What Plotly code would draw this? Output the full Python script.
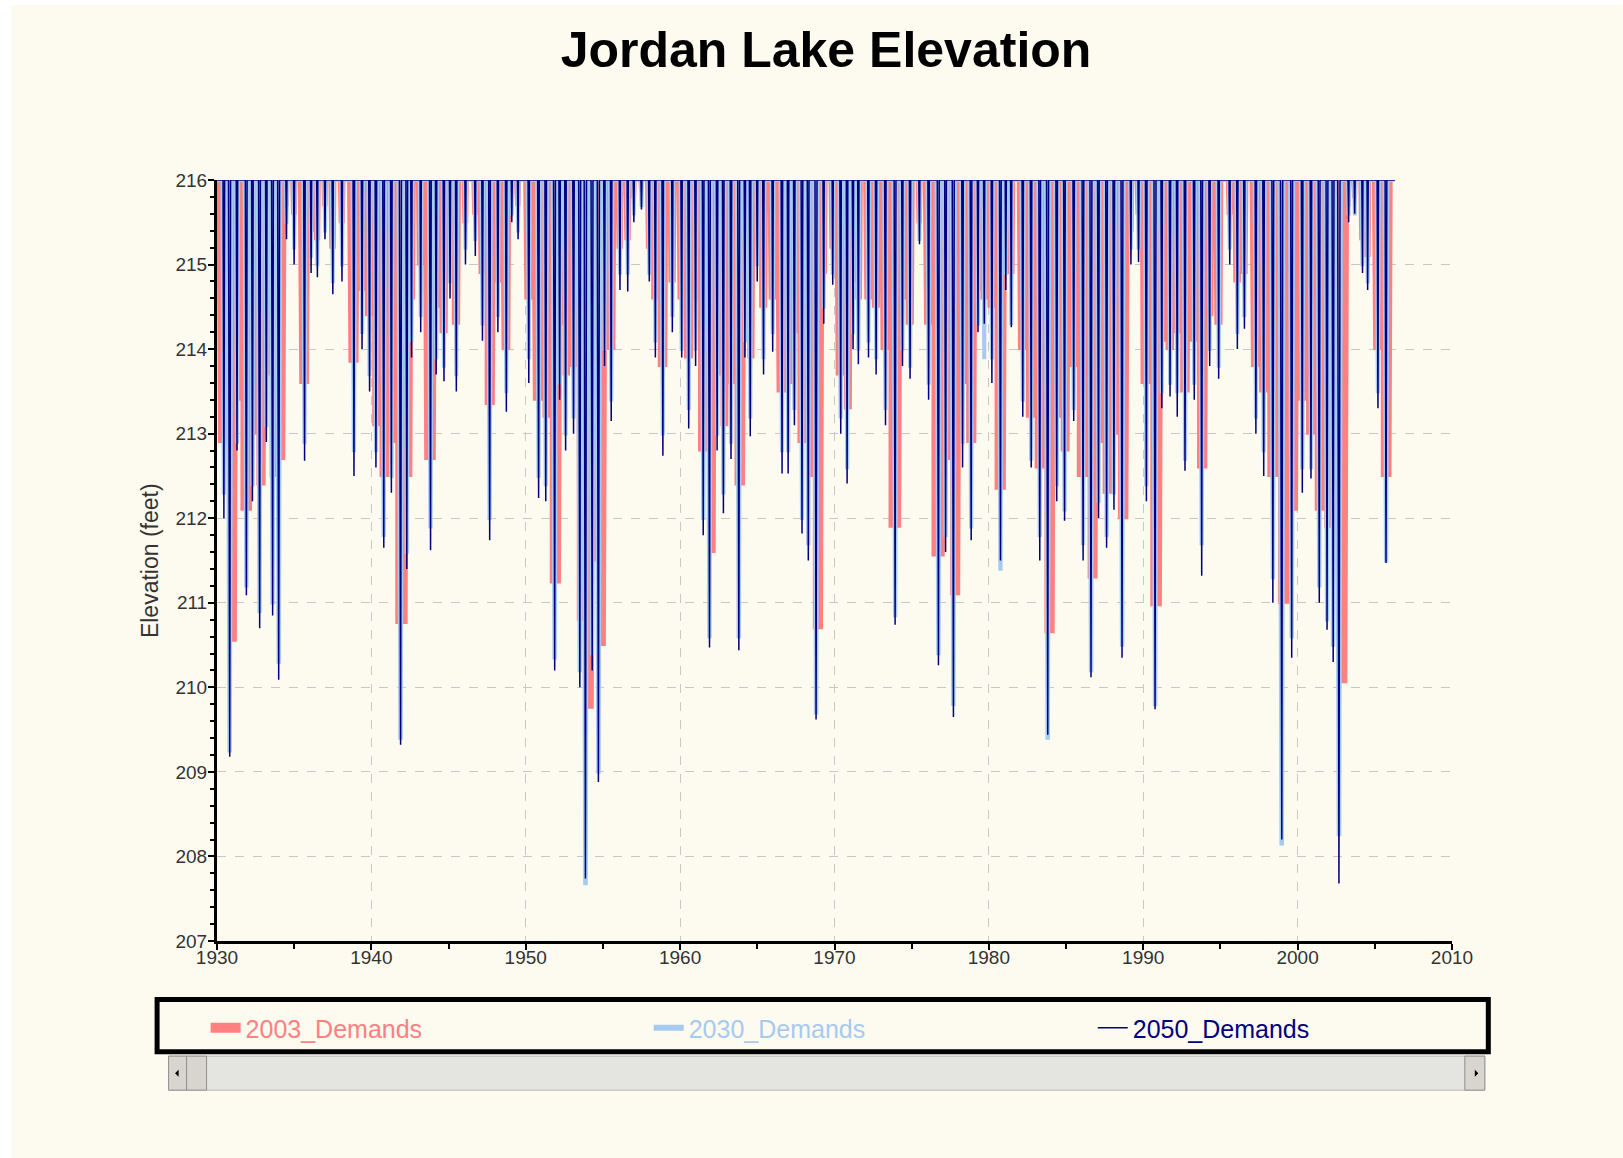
import plotly.graph_objects as go

# ---------------- data ----------------
# time of each drawdown trough (decimal year) and trough elevation (feet) per scenario
dip_time = [
    1930.45, 1930.82, 1931.30, 1931.90, 1932.30, 1932.76, 1933.20, 1933.60, 1934.00, 1934.50,
    1935.00, 1935.67, 1936.10, 1936.50, 1937.00, 1937.50, 1938.10, 1938.87, 1939.40, 1939.88,
    1940.30, 1940.80, 1941.30, 1941.89, 1942.30, 1942.60, 1943.20, 1943.83, 1944.20, 1944.70,
    1945.10, 1945.50, 1946.10, 1946.73, 1947.20, 1947.66, 1948.20, 1948.74, 1949.10, 1949.50,
    1950.20, 1950.83, 1951.30, 1951.87, 1952.20, 1952.58, 1953.10, 1953.50, 1953.87, 1954.30,
    1954.71, 1955.10, 1955.54, 1956.10, 1956.61, 1957.00, 1957.50, 1958.00, 1958.40, 1958.88,
    1959.50, 1960.10, 1960.56, 1961.00, 1961.50, 1961.90, 1962.40, 1962.80, 1963.30, 1963.80,
    1964.20, 1964.54, 1965.00, 1965.40, 1966.00, 1966.60, 1967.00, 1967.40, 1967.90, 1968.30,
    1968.81, 1969.30, 1969.89, 1970.40, 1970.82, 1971.20, 1971.55, 1972.20, 1972.70, 1973.30,
    1973.93, 1974.40, 1974.90, 1975.50, 1976.10, 1976.73, 1977.20, 1977.70, 1978.30, 1978.85,
    1979.30, 1979.70, 1980.20, 1980.75, 1981.10, 1981.45, 1982.20, 1982.74, 1983.30, 1983.81,
    1984.40, 1984.90, 1985.50, 1986.10, 1986.62, 1987.10, 1987.63, 1988.10, 1988.63, 1989.20,
    1989.70, 1990.20, 1990.77, 1991.20, 1991.74, 1992.20, 1992.71, 1993.30, 1993.79, 1994.30,
    1994.89, 1995.60, 1996.10, 1996.55, 1997.30, 1997.80, 1998.40, 1998.97, 1999.62, 2000.30,
    2000.87, 2001.40, 2001.91, 2002.30, 2002.68, 2003.30, 2003.70, 2004.20, 2004.54, 2005.20,
    2005.73,
]
low_2003 = [
    212.9, 210.55, 213.4, 212.1, 213.0, 212.4, 213.7, 212.5, 212.7, 215.7,
    215.6, 213.6, 215.4, 215.3, 215.7, 215.2, 215.5, 213.85, 214.7, 214.4,
    213.1, 212.5, 212.9, 210.76, 212.5, 214.6, 215.0, 212.7, 214.5, 214.2,
    215.3, 214.3, 215.5, 215.6, 214.9, 213.35, 214.8, 214.0, 215.8, 215.7,
    214.6, 213.4, 213.2, 211.24, 214.3, 213.7, 213.8, 210.8, 209.76, 211.5,
    210.5, 214.6, 214.0, 215.2, 215.3, 215.8, 215.9, 215.2, 214.6, 213.8,
    214.8, 214.6, 213.9, 214.6, 212.8, 211.6, 213.7, 213.1, 213.6, 212.4,
    214.6, 213.9, 215.3, 214.5, 214.6, 213.5, 213.6, 214.2, 212.9, 212.5,
    210.7, 214.9, 215.2, 213.7, 213.3, 214.8, 214.6, 214.6, 214.5, 214.0,
    211.9, 214.6, 214.3, 215.5, 214.3, 211.56, 212.7, 211.1, 213.6, 212.9,
    214.7, 214.6, 214.5, 212.35, 215.3, 214.9, 214.0, 213.2, 212.6, 210.65,
    213.2, 212.8, 213.8, 212.5, 211.3, 212.9, 212.3, 213.0, 212.0, 215.4,
    215.6, 213.6, 210.97, 214.1, 214.0, 214.2, 213.5, 214.1, 212.6, 214.4,
    214.3, 215.6, 214.8, 214.9, 213.8, 213.5, 212.5, 211.0, 212.1, 213.4,
    213.0, 212.1, 211.9, 212.0, 210.06, 215.7, 215.8, 215.3, 215.1, 214.0,
    212.5,
]
low_2030 = [
    212.3, 209.25, 212.9, 211.2, 212.4, 210.9, 213.1, 211.0, 210.3, 215.5,
    215.2, 212.9, 215.1, 215.0, 215.4, 214.8, 215.0, 212.8, 214.2, 213.7,
    212.8, 211.8, 212.5, 209.4, 211.6, 214.1, 214.4, 211.9, 213.9, 213.8,
    214.8, 213.7, 215.2, 215.3, 214.3, 212.0, 214.4, 213.5, 215.6, 215.4,
    213.9, 212.5, 212.4, 210.35, 213.6, 213.0, 213.2, 210.2, 207.68, 210.4,
    209.0, 214.0, 213.4, 214.9, 214.9, 215.6, 215.7, 214.9, 214.1, 213.0,
    214.4, 214.0, 213.3, 214.0, 212.0, 210.6, 213.0, 212.3, 212.9, 210.6,
    214.1, 213.2, 215.0, 213.9, 214.2, 212.8, 212.8, 213.3, 212.0, 211.7,
    209.7, 214.5, 214.9, 213.2, 212.6, 214.2, 214.0, 214.1, 213.9, 213.3,
    210.85, 214.0, 213.8, 215.3, 213.6, 210.4, 211.8, 209.8, 212.9, 211.9,
    214.3, 213.9, 213.9, 211.4, 214.9, 214.3, 213.4, 212.7, 211.8, 209.4,
    212.4, 212.1, 213.3, 211.7, 210.2, 212.2, 211.8, 212.3, 210.5, 215.2,
    215.2, 212.4, 209.8, 213.5, 213.6, 213.5, 212.7, 213.6, 211.7, 214.0,
    213.8, 215.2, 214.2, 214.4, 213.2, 212.8, 211.3, 208.15, 210.6, 212.6,
    212.6, 211.2, 210.8, 210.5, 208.26, 215.6, 215.6, 215.0, 214.8, 213.5,
    211.5,
]
low_2050 = [
    212.0, 209.18, 212.8, 211.09, 212.2, 210.7, 212.9, 210.85, 210.09, 215.3,
    215.0, 212.68, 214.9, 214.85, 215.3, 214.65, 214.8, 212.5, 214.0, 213.5,
    212.6, 211.65, 212.3, 209.32, 211.4, 213.9, 214.2, 211.62, 213.7, 213.62,
    214.6, 213.5, 215.0, 215.1, 214.1, 211.74, 214.2, 213.26, 215.5, 215.3,
    213.6, 212.24, 212.2, 210.2, 213.4, 212.8, 213.0, 210.0, 207.74, 210.2,
    208.88, 213.8, 213.15, 214.7, 214.68, 215.5, 215.65, 214.8, 213.9, 212.74,
    214.2, 213.9, 213.06, 213.8, 211.8, 210.47, 212.8, 212.06, 212.7, 210.44,
    213.9, 212.97, 214.8, 213.7, 213.97, 212.53, 212.53, 213.1, 211.82, 211.5,
    209.62, 214.3, 214.76, 213.0, 212.41, 214.0, 213.82, 213.9, 213.7, 213.1,
    210.74, 213.8, 213.65, 215.24, 213.4, 210.26, 211.6, 209.65, 212.6, 211.74,
    214.2, 214.3, 213.6, 211.5, 214.7, 214.26, 213.2, 212.6, 211.5, 209.44,
    212.2, 211.97, 213.15, 211.5, 210.12, 212.0, 211.65, 212.1, 210.35, 215.0,
    215.03, 212.2, 209.74, 213.3, 213.44, 213.2, 212.56, 213.4, 211.32, 213.8,
    213.65, 215.0, 214.0, 214.24, 213.0, 212.5, 211.0, 208.2, 210.35, 212.3,
    212.47, 211.0, 210.68, 210.3, 207.68, 215.5, 215.6, 214.9, 214.7, 213.3,
    211.47,
]
series_names = ["2003_Demands", "2030_Demands", "2050_Demands"]
full_pool = 216.0
record_start = 1930.0
record_end = 2006.3

x_ticks = [1930, 1940, 1950, 1960, 1970, 1980, 1990, 2000, 2010]
y_ticks = [207, 208, 209, 210, 211, 212, 213, 214, 215, 216]

# ---------------- styling ----------------
CREAM = "#FDFBEF"
PINK = "#FF8080"
SKY = "#A6CAF0"
NAVY = "#000080"
FONT = "Liberation Sans, Arial, sans-serif"

W, H = 1623, 1158
L, R, T, B = 217.4, 1452.2, 180.1, 940.9


def px(x):
    return (x - L) / (R - L)


def py(y):
    return (B - y) / (B - T)


def trace_points(lows, shape):
    """Each drawdown drawn as a steep-walled trough; duration grows with the
    depth of the event (depth taken from the deepest scenario)."""
    (a0, a1), (b0, b1), (c0, c1), (d0, d1) = shape
    xs = [record_start]
    ys = [full_pool]
    for t, v, deep in zip(dip_time, lows, low_2050):
        d = full_pool - deep
        pts = [(t - (a0 + a1 * d), full_pool), (t - (b0 + b1 * d), v),
               (t + (c0 + c1 * d), v), (t + (d0 + d1 * d), full_pool)]
        for x, y in pts:
            xs.append(max(x, xs[-1]))
            ys.append(y)
    xs.append(record_end)
    ys.append(full_pool)
    return xs, ys


# per series: colour, line width, trough shape, filled, legend id, legend x px, legend width
styles = [
    (PINK, 2, ((0.12, 0.075), (0.08, 0.06), (0.06, 0.05), (0.09, 0.06)), True,
     "legend", 206, 10),
    (SKY, 3.5, ((0.06, 0.014), (0.012, 0.003), (0.012, 0.003), (0.05, 0.011)), False,
     "legend2", 649, 6),
    (NAVY, 1.5, ((0.035, 0.006), (0.004, 0.0), (0.004, 0.0), (0.025, 0.005)), False,
     "legend3", 1093, 1.5),
]

fig = go.Figure()
for name, lows, (col, wid, shape, filled, lg, _, lw) in zip(
        series_names, [low_2003, low_2030, low_2050], styles):
    xs, ys = trace_points(lows, shape)
    fig.add_trace(go.Scatter(
        x=xs, y=ys, mode="lines", line=dict(color=col, width=wid),
        fill="toself" if filled else "none", fillcolor=col,
        hoverinfo="skip", showlegend=False,
    ))
for name, (col, wid, shape, filled, lg, _, lw) in zip(series_names, styles):
    fig.add_trace(go.Scatter(
        x=[None], y=[None], mode="lines",
        name=f"<span style='color:{col}'>{name}</span>",
        line=dict(color=col, width=lw), legend=lg, hoverinfo="skip",
    ))

axis_common = dict(
    showline=True, linecolor="black", linewidth=3,
    showgrid=True, gridcolor="#C8C8C8", gridwidth=1, griddash="dash",
    ticks="outside", ticklen=6, tickwidth=2, tickcolor="black",
    tickfont=dict(family=FONT, size=19, color="#333333"),
    zeroline=False, fixedrange=True,
)

fig.update_xaxes(
    range=[1930, 2010], tickmode="array", tickvals=x_ticks,
    ticktext=[str(v) for v in x_ticks], ticklabelstandoff=-9,
    minor=dict(dtick=5, tick0=1930, ticks="outside", ticklen=5, tickwidth=2,
               tickcolor="black", showgrid=False),
    **axis_common,
)
fig.update_yaxes(
    range=[207, 216], tickmode="array", tickvals=y_ticks,
    ticktext=[str(v) for v in y_ticks], ticklabelstandoff=-3,
    minor=dict(dtick=0.2, tick0=207, ticks="outside", ticklen=4, tickwidth=2,
               tickcolor="black", showgrid=False),
    **axis_common,
)

shapes = [
    # white page margins at the top-left
    dict(type="rect", xref="paper", yref="paper", x0=px(0), x1=px(12), y0=py(H), y1=py(0),
         fillcolor="white", line=dict(width=0), layer="below"),
    dict(type="rect", xref="paper", yref="paper", x0=px(0), x1=px(W), y0=py(5), y1=py(0),
         fillcolor="white", line=dict(width=0), layer="below"),
    # legend frame
    dict(type="rect", xref="paper", yref="paper", x0=px(157.5), x1=px(1488.5),
         y0=py(1051.5), y1=py(999.5), line=dict(color="black", width=5)),
    # scrollbar track
    dict(type="rect", xref="paper", yref="paper", x0=px(169), x1=px(1485),
         y0=py(1090), y1=py(1056), fillcolor="#E4E4E0", line=dict(color="#B8B8B8", width=1)),
    dict(type="rect", xref="paper", yref="paper", x0=px(169), x1=px(187),
         y0=py(1090), y1=py(1056), fillcolor="#D8D5CF", line=dict(color="#909090", width=1)),
    dict(type="rect", xref="paper", yref="paper", x0=px(187), x1=px(207),
         y0=py(1090), y1=py(1056), fillcolor="#D8D5CF", line=dict(color="#909090", width=1)),
    dict(type="rect", xref="paper", yref="paper", x0=px(1465), x1=px(1485),
         y0=py(1090), y1=py(1056), fillcolor="#D8D5CF", line=dict(color="#909090", width=1)),
    dict(type="path", xref="paper", yref="paper",
         path=f"M{px(175.5)},{py(1073)} L{px(179)},{py(1069.5)} L{px(179)},{py(1076.5)} Z",
         fillcolor="black", line=dict(width=0)),
    dict(type="path", xref="paper", yref="paper",
         path=f"M{px(1478.5)},{py(1073)} L{px(1475)},{py(1069.5)} L{px(1475)},{py(1076.5)} Z",
         fillcolor="black", line=dict(width=0)),
]

legend_common = dict(orientation="h", xanchor="left", y=py(1028), yanchor="middle",
                     bgcolor="rgba(0,0,0,0)", borderwidth=0,
                     font=dict(family=FONT, size=25))

fig.update_layout(
    width=W, height=H,
    margin=dict(l=L, r=W - R, t=T, b=H - B),
    paper_bgcolor=CREAM, plot_bgcolor=CREAM,
    title=dict(text="<b>Jordan Lake Elevation</b>", x=826 / W, xref="container",
               xanchor="center", y=1 - 49 / H, yref="container", yanchor="middle",
               font=dict(family=FONT, size=50, color="black")),
    showlegend=True,
    legend=dict(x=px(styles[0][5]), **legend_common),
    legend2=dict(x=px(styles[1][5]), **legend_common),
    legend3=dict(x=px(styles[2][5]), **legend_common),
    annotations=[dict(text="Elevation (feet)", xref="paper", yref="paper",
                      x=px(150), xanchor="center", y=0.5, yanchor="middle",
                      textangle=-90, showarrow=False,
                      font=dict(family=FONT, size=23, color="#333333"))],
    shapes=shapes,
)

fig.write_html("out.html")
